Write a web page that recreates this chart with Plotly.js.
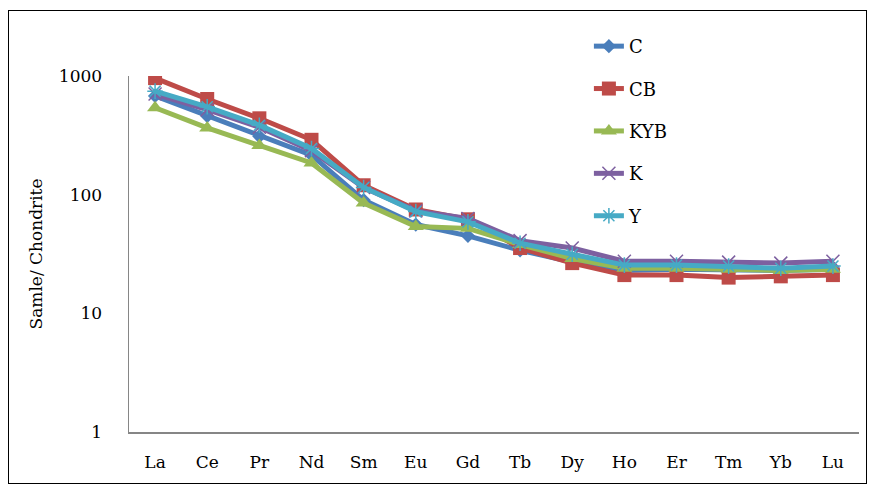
<!DOCTYPE html>
<html>
<head>
<meta charset="utf-8">
<script src="https://cdn.plot.ly/plotly-3.0.1.min.js"></script>
<style>
html,body{margin:0;padding:0;background:#fff;}
#chart{width:873px;height:491px;}
#frame{position:absolute;left:8px;top:10px;width:857px;height:472px;border:1px solid #000;pointer-events:none;}
</style>
</head>
<body>
<div id="chart"></div>
<div id="frame"></div>
<script>
const elements = ["La","Ce","Pr","Nd","Sm","Eu","Gd","Tb","Dy","Ho","Er","Tm","Yb","Lu"];
const C   = [680, 460, 310, 215, 90, 56, 45, 34, 27, 23, 23.5, 23, 23, 23.5];
const CB  = [960, 640, 440, 290, 120, 75, 62, 35.5, 26.5, 21, 21, 20, 20.5, 21];
const KYB = [540, 365, 260, 185, 85, 54, 52, 38, 29, 24, 24, 23.5, 23, 23.5];
const K   = [705, 520, 370, 235, 115, 73, 63, 41, 35.5, 27.5, 27.5, 27, 26.5, 27.5];
const Y   = [745, 550, 385, 245, 115, 72, 59, 39, 31.5, 25.5, 25.5, 25, 24, 25];
const yTicks = [1, 10, 100, 1000];

const names = ["C","CB","KYB","K","Y"];
const series = [C, CB, KYB, K, Y];
const colors = ["#4a7ebb","#be4b48","#98b954","#7d60a0","#46aac5"];
const symbols = ["diamond","square","triangle-up","x-thin-open","asterisk-open"];
const sizes = [11, 14, 14, 13, 13];

const traces = series.map((s, i) => ({
  x: elements, y: s, name: names[i], type: "scatter", mode: "lines+markers",
  legendgroup: "g" + i,
  line: {color: colors[i], width: 5},
  marker: {symbol: symbols[i], size: sizes[i], color: colors[i],
           line: {color: colors[i], width: (i >= 3 ? 1.5 : 0)}}
}));

const fam = "DejaVu Serif";
const font = {family: fam, size: 17, color: "#000"};
const layout = {
  width: 873, height: 491,
  margin: {l: 129, r: 14, t: 76, b: 59},
  paper_bgcolor: "#fff", plot_bgcolor: "#fff",
  font: font,
  showlegend: true,
  legend: {x: 0.63, y: 1.135, xanchor: "left", yanchor: "top",
           font: {family: fam, size: 18, color: "#000"},
           tracegroupgap: 16, bgcolor: "rgba(0,0,0,0)"},
  xaxis: {type: "category", range: [-0.5, 13.5], showline: true, linecolor: "#868686", linewidth: 1.5,
          showgrid: false, zeroline: false, ticks: "", tickfont: font, ticklabelstandoff: 14},
  yaxis: {type: "log", range: [0, 3], showline: true, linecolor: "#868686", linewidth: 1.5,
          showgrid: false, zeroline: false, ticks: "", tickvals: yTicks,
          ticktext: yTicks.map(String), tickfont: font, ticklabelstandoff: 22,
          title: {text: "Samle/ Chondrite", font: {family: fam, size: 17, color: "#000"}, standoff: 12}},
};
Plotly.newPlot("chart", traces, layout, {displayModeBar: false, staticPlot: true});
</script>
</body>
</html>
